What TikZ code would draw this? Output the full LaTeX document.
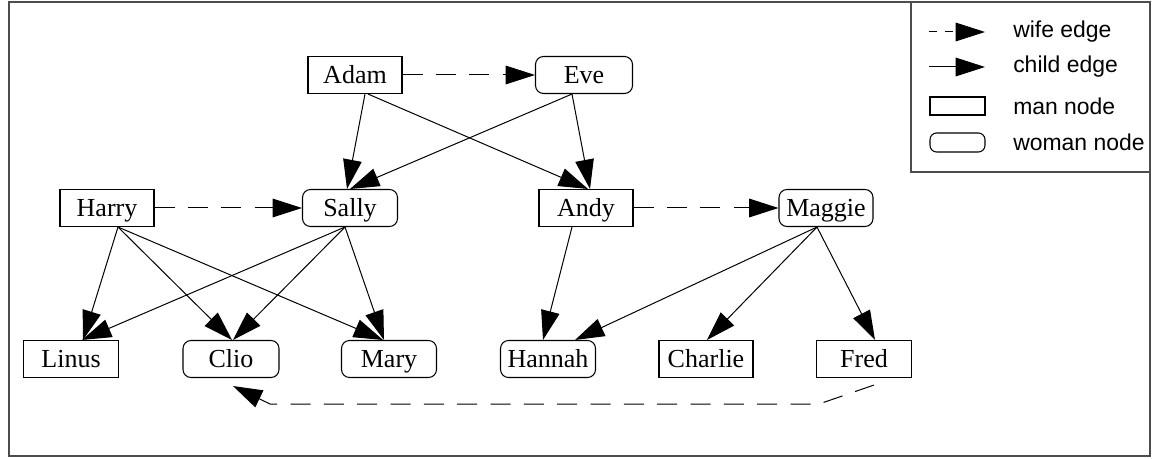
\documentclass[tikz,border=0pt]{standalone}
\usepackage{fontspec}
\setmainfont{Liberation Serif}
\newfontfamily\legfont{Liberation Sans}
\usetikzlibrary{arrows.meta,calc}
\tikzset{
  person/.style={draw, line width=0.8pt, inner sep=0pt, minimum height=27.75pt, text height=13.5pt, text depth=0pt, font=\fontsize{19.5}{22}\selectfont},
  man/.style={person, rectangle},
  woman/.style={person, rectangle, rounded corners=6pt},
  tip/.style={-{Triangle[length=22pt,width=14pt]}},
  child/.style={line width=0.75pt, tip},
  wife/.style={line width=0.75pt, dash pattern=on 15pt off 10pt, tip},
  frame/.style={draw=black!70, line width=1.1pt},
  legtext/.style={anchor=west, inner sep=0pt, font=\legfont\fontsize{17.2}{19}\selectfont}
}
\begin{document}
\begin{tikzpicture}[x=0.75pt,y=-0.75pt]
\useasboundingbox (0,0) rectangle (1152,459);
\draw[frame] (9,2) rectangle (1150,456);
\draw[frame] (911,2) rectangle (1150,172);
% nodes
\node[man, minimum width=94*0.75pt] (Adam) at (355,75) {Adam};
\node[woman, minimum width=97*0.75pt] (Eve) at (584,75) {Eve};
\node[man, minimum width=94*0.75pt] (Harry) at (107,208) {Harry};
\node[woman, minimum width=95*0.75pt] (Sally) at (350,208) {Sally};
\node[man, minimum width=94*0.75pt] (Andy) at (586,208) {Andy};
\node[woman, minimum width=94*0.75pt] (Maggie) at (826,208) {Maggie};
\node[man, minimum width=95*0.75pt] (Linus) at (71,359) {Linus};
\node[woman, minimum width=96*0.75pt] (Clio) at (231,359) {Clio};
\node[woman, minimum width=95*0.75pt] (Mary) at (389,359) {Mary};
\node[woman, minimum width=95*0.75pt] (Hannah) at (548,359) {Hannah};
\node[man, minimum width=94*0.75pt] (Charlie) at (706,359) {Charlie};
\node[man, minimum width=95*0.75pt] (Fred) at (864,359) {Fred};
% wife edges
\draw[wife] (Adam.east) -- (Eve.west);
\draw[wife] (Harry.east) -- (Sally.west);
\draw[wife] (Andy.east) -- (Maggie.west);
\coordinate (fc1) at (819,404);
\coordinate (fc2) at (270,404);
\draw[wife] ($(Fred.south)+(10,7)$) -- (fc1) -- (fc2) -- ($(Clio.south)+(2,8)$);
% child edges
\draw[child] ($(Adam.south)+(10,0)$) -- ($(Sally.north)+(-3,0)$);
\draw[child] ($(Adam.south)+(13,0)$) -- ($(Andy.north)+(2,0)$);
\draw[child] ($(Eve.south)+(-12,0)$) -- ($(Sally.north)+(0,0)$);
\draw[child] ($(Eve.south)+(-12,0)$) -- ($(Andy.north)+(4,0)$);
\draw[child] ($(Harry.south)+(11,0)$) -- ($(Linus.north)+(12,0)$);
\draw[child] ($(Harry.south)+(11,0)$) -- ($(Clio.north)+(1,0)$);
\draw[child] ($(Harry.south)+(11,0)$) -- ($(Mary.north)+(-6,0)$);
\draw[child] ($(Sally.south)+(-5,0)$) -- ($(Linus.north)+(11,0)$);
\draw[child] ($(Sally.south)+(-5,0)$) -- ($(Clio.north)+(2,0)$);
\draw[child] ($(Sally.south)+(-5,0)$) -- ($(Mary.north)+(-5,0)$);
\draw[child] ($(Andy.south)+(-14,0)$) -- ($(Hannah.north)+(-5,0)$);
\draw[child] ($(Maggie.south)+(-9,0)$) -- ($(Hannah.north)+(27,0)$);
\draw[child] ($(Maggie.south)+(-9,0)$) -- ($(Charlie.north)+(1,0)$);
\draw[child] ($(Maggie.south)+(-9,0)$) -- ($(Fred.north)+(11,0)$);
% legend
\coordinate (lw1) at (929,32); \coordinate (lw2) at (985,32);
\draw[line width=0.75pt, dash pattern=on 6pt off 6pt, tip] (lw1) -- (lw2);
\coordinate (lc1) at (929,67); \coordinate (lc2) at (985,67);
\draw[child] (lc1) -- (lc2);
\node[draw, line width=0.8pt, minimum width=55*0.75pt, minimum height=18*0.75pt, inner sep=0pt] (lman) at (957.5,106) {};
\node[draw, line width=0.8pt, rounded corners=5pt, minimum width=55*0.75pt, minimum height=19*0.75pt, inner sep=0pt] (lwoman) at (957.5,142.5) {};
\node[legtext] (t1) at (1013,32) {wife edge};
\node[legtext] (t2) at (1013,67) {child edge};
\node[legtext] (t3) at (1013,106) {man node};
\node[legtext] (t4) at (1013,142) {woman node};
\end{tikzpicture}
\end{document}
